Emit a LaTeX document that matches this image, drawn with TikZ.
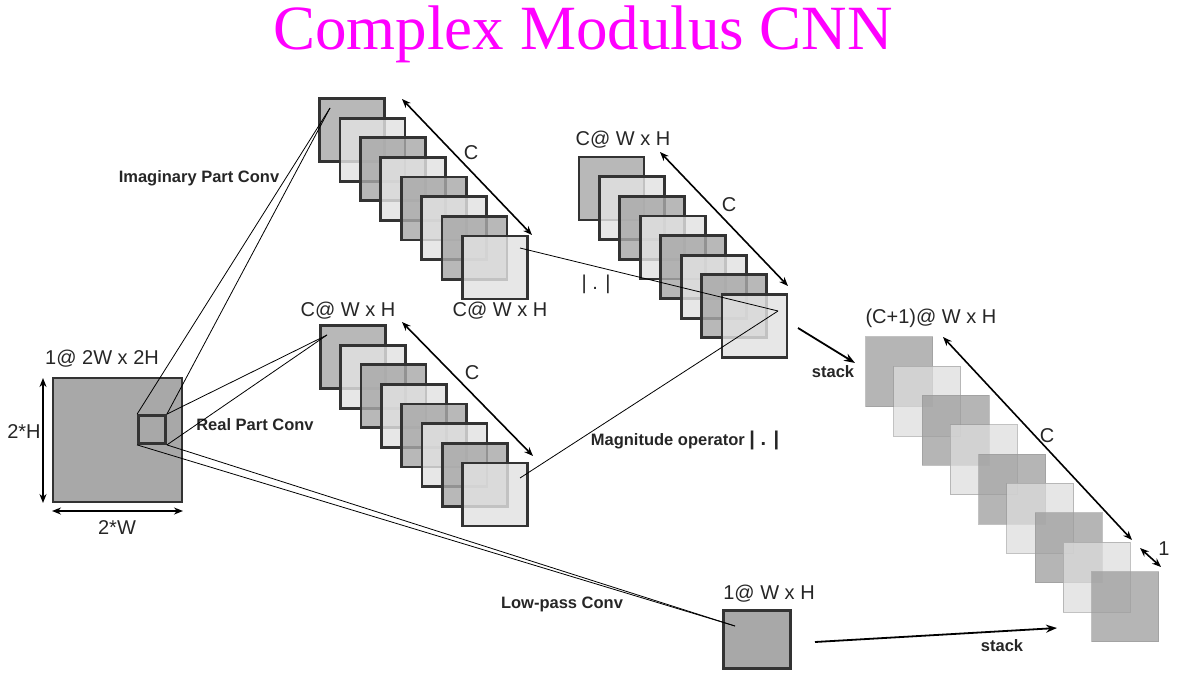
\documentclass[tikz,border=0pt]{standalone}
\usepackage{fontspec}
\setmainfont{Liberation Sans}
\newfontfamily\titlefont{Liberation Serif}
\usetikzlibrary{arrows.meta}
\definecolor{sqdk}{HTML}{A8A8A8}
\definecolor{sqlt}{HTML}{E2E2E2}
\definecolor{sqedge}{HTML}{333333}
\definecolor{rdk}{HTML}{9C9C9C}
\definecolor{rlt}{HTML}{DDDDDD}
\definecolor{titlemag}{HTML}{FF00FF}
\begin{document}
\begin{tikzpicture}[x=1pt,y=-1pt,
  fmap/.style={rectangle, inner sep=0pt, minimum width=65pt, minimum height=63pt,
    draw=sqedge, line width=2.8pt, fill opacity=0.82},
  rmap/.style={rectangle, inner sep=0pt, minimum width=67pt, minimum height=70pt,
    draw=gray!80, line width=0.7pt, fill opacity=0.75, draw opacity=0.6},
  dimarrow/.style={line width=1.6pt, {Stealth[length=9pt,width=7pt]}-{Stealth[length=9pt,width=7pt]}},
  stackarrow/.style={line width=1.8pt, -{Stealth[length=11pt,width=8pt]}},
  thinline/.style={line width=0.8pt, black},
  lbl/.style={inner sep=0pt, font=\fontsize{20}{22}\selectfont, text=black!85},
  blbl/.style={inner sep=0pt, font=\bfseries\fontsize{16.5}{18}\selectfont, text=black!85},
]
\useasboundingbox (0,0) rectangle (1185,682);

% title
\node[inner sep=0pt, anchor=base, text=titlemag, font=\titlefont\fontsize{63}{70}\selectfont] (title) at (583,50) {Complex Modulus CNN};

% input map
\node[rectangle, inner sep=0pt, minimum width=129pt, minimum height=124pt, draw=sqedge, line width=2.8pt, fill=sqdk] (big) at (117.5,440) {};
\node[rectangle, inner sep=0pt, minimum width=27pt, minimum height=28pt, draw=sqedge, line width=2.8pt, fill=sqdk] (sm) at (152,429.5) {};
\node[lbl] (lbig) at (102,359) {1@ 2W x 2H};
\node[lbl] (lh) at (24,432) {2*H};
\node[lbl] (lw) at (117,528) {2*W};
\coordinate (hA) at (43,378);
\coordinate (hB) at (43,503);
\coordinate (wA) at (52,511);
\coordinate (wB) at (183,511);
\draw[dimarrow] (hA) -- (hB);
\draw[dimarrow] (wA) -- (wB);

% imaginary stack
\foreach \i/\c in {0/sqdk,1/sqlt,2/sqdk,3/sqlt,4/sqdk,5/sqlt,6/sqdk,7/sqlt}
  \node[fmap, fill=\c] (t\i) at ({352+\i*20.43},{130+\i*19.64}) {};
% middle stack
\foreach \i/\c in {0/sqdk,1/sqlt,2/sqdk,3/sqlt,4/sqdk,5/sqlt,6/sqdk,7/sqlt}
  \node[fmap, fill=\c] (m\i) at ({611.5+\i*20.43},{188.5+\i*19.64}) {};
% real stack
\foreach \i/\c in {0/sqdk,1/sqlt,2/sqdk,3/sqlt,4/sqdk,5/sqlt,6/sqdk,7/sqlt}
  \node[fmap, fill=\c] (r\i) at ({353+\i*20.29},{357+\i*19.64}) {};
% output stack
\foreach \i/\c in {0/rdk,1/rlt,2/rdk,3/rlt,4/rdk,5/rlt,6/rdk,7/rlt,8/rdk}
  \node[rmap, fill=\c] (o\i) at ({899+\i*28.25},{371.5+\i*29.375}) {};
% low-pass map
\node[rectangle, inner sep=0pt, minimum width=67pt, minimum height=58pt, draw=sqedge, line width=2.8pt, fill=sqdk] (lp) at (757,639.5) {};

% labels
\node[lbl] (lt) at (500,311) {C@ W x H};
\node[lbl] (lm) at (623,140) {C@ W x H};
\node[lbl] (lr) at (348,311) {C@ W x H};
\node[lbl] (lo) at (931,318) {(C+1)@ W x H};
\node[lbl] (llp) at (769,594) {1@ W x H};
\node[lbl] (ct) at (471,153) {C};
\node[lbl] (cm) at (729,205) {C};
\node[lbl] (cr) at (472,373) {C};
\node[lbl] (co) at (1047,436) {C};
\node[lbl] (cone) at (1164,549) {1};
\node[lbl] (abs) at (596,284) {| . |};
\node[blbl] (limag) at (199,178) {Imaginary Part Conv};
\node[blbl] (lreal) at (255,425) {Real Part Conv};
\node[blbl] (llow) at (562,604) {Low-pass Conv};
\node[blbl] (lmag) at (685,440) {Magnitude operator \fontsize{20}{22}\selectfont| . |};
\node[blbl] (ls1) at (833,372) {stack};
\node[blbl] (ls2) at (1002,646) {stack};

% dimension arrows for stacks
\coordinate (tA) at (402,99);
\coordinate (tB) at (532,235);
\coordinate (mA) at (660,152);
\coordinate (mB) at (788,286);
\coordinate (rA) at (402,322);
\coordinate (rB) at (533,456);
\coordinate (oA) at (943,337);
\coordinate (oB) at (1132,540);
\coordinate (oneA) at (1140,548);
\coordinate (oneB) at (1161,567);
\draw[dimarrow] (tA) -- (tB);
\draw[dimarrow] (mA) -- (mB);
\draw[dimarrow] (rA) -- (rB);
\draw[dimarrow] (oA) -- (oB);
\draw[dimarrow] (oneA) -- (oneB);

% convolution lines
\coordinate (pimag) at (330,108);
\coordinate (preal) at (327,335);
\coordinate (plow) at (735,626);
\draw[thinline] (sm.north west) -- (pimag);
\draw[thinline] (sm.north east) -- (pimag);
\draw[thinline] (sm.north east) -- (preal);
\draw[thinline] (sm.south east) -- (preal);
\draw[thinline] (sm.south west) -- (plow);
\draw[thinline] (sm.south east) -- (plow);

% magnitude lines
\coordinate (pi7) at (520,248);
\coordinate (pr7) at (520,478);
\coordinate (pm7) at (778,311);
\draw[thinline] (pi7) -- (pm7);
\draw[thinline] (pr7) -- (pm7);

% stack arrows
\coordinate (s1A) at (798,328);
\coordinate (s1B) at (855,363);
\coordinate (s2A) at (815,642);
\coordinate (s2B) at (1057,628);
\draw[stackarrow] (s1A) -- (s1B);
\draw[stackarrow] (s2A) -- (s2B);
\end{tikzpicture}
\end{document}
